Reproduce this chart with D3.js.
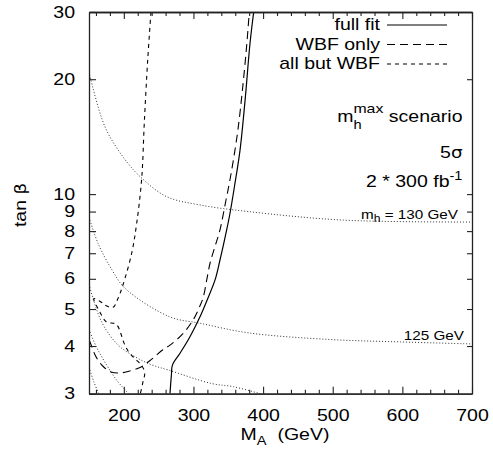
<!DOCTYPE html>
<html><head><meta charset="utf-8">
<script src="https://cdn.jsdelivr.net/npm/d3@7"></script>
<style>
body{margin:0;background:#fff}
svg{display:block}
text{font-family:"Liberation Sans",Arial,Helvetica,sans-serif;fill:#000}
</style>
</head><body>
<svg id="c" width="493" height="459"></svg>
<script>
// ---- data (M_A in GeV, tan beta) ----
const xTicksMajor = [200, 300, 400, 500, 600, 700];
const xTicksMinor = [160,180,220,240,260,280,320,340,360,380,420,440,460,480,520,540,560,580,620,640,660,680];
const yTicks = [3, 4, 5, 6, 7, 8, 9, 10, 20, 30];
const yTicksRight = [4, 5, 6, 7, 8, 9, 10, 20];
const legendLabels = ["full fit", "WBF only", "all but WBF"];

const fullFit = [[266.3,3.0],[268.3,3.35],[269.9,3.57],[280.7,3.83],[295,4.23],[309.4,4.77],[321.3,5.37],[330.9,5.95],[338.1,6.72],[347.7,8.06],[352.5,8.91],[359,10.5],[366.8,13.0],[374,17.5],[381.2,24.8],[386.5,30]];
const wbfOnly = [[150,4.15],[151.4,4.10],[157.9,3.82],[164,3.65],[170.8,3.53],[181.6,3.42],[194.5,3.40],[206,3.43],[224,3.52],[240.5,3.70],[256,3.91],[266.3,4.02],[285.4,4.32],[299.8,4.69],[309.4,5.1],[314.1,5.37],[319,5.95],[323.8,6.59],[331,7.3],[338.1,8.06],[346,9.5],[352,10.8],[358,12.5],[364,14.8],[370,18.5],[376,24],[380.2,30]];
const allButWBF = [[239,30],[234.3,22.45],[229.5,15.5],[225.7,11.0],[218.5,8.39],[211.3,7.0],[199,5.8],[191.6,5.33],[184.5,5.05],[174.8,5.1],[167.7,5.21],[157,5.32],[165.4,4.92],[174.8,4.63],[189.2,4.56],[195.5,4.32],[200.3,4.07],[207,3.86],[215.6,3.71],[225,3.57],[230,3.41],[227.5,3.22],[223.7,3.0]];
const mh130 = [[150,20.9],[173,15.0],[202,12.3],[226,11.0],[262,9.84],[309,9.37],[379,9.0],[515,8.55],[700,8.45]];
const mh125 = [[150,8.7],[163,7.43],[183,6.33],[202,5.66],[266,4.77],[309,4.59],[379,4.33],[496,4.16],[597,4.1],[700,4.05]];
const mh120 = [[150,5.8],[168,4.63],[192,4.02],[216,3.75],[240,3.57],[264,3.46],[326,3.19],[357,3.13],[396,3.0]];
const mh115 = [[150,4.42],[160,4.0],[172,3.65],[190,3.25],[207,3.0]];
const mh110 = [[150,3.52],[157,3.22],[164,3.0]];

// ---- layout ----
const K = 1.22; // horizontal stretch of the reference lettering
const svg = d3.select("#c");
const x = d3.scaleLinear([150, 700], [89, 472]);
const y = d3.scaleLog([3, 30], [393.7, 12]);
const frameColor = "#222";

svg.append("clipPath").attr("id","clip").append("rect")
  .attr("x", 89).attr("y", 12).attr("width", 472-89).attr("height", 393.7-12);

const line = d3.line().x(d => x(d[0])).y(d => y(d[1])).curve(d3.curveCatmullRom.alpha(0.5));
const plot = svg.append("g").attr("clip-path","url(#clip)");

[mh130, mh125, mh120, mh115, mh110].forEach(c => {
  plot.append("path").attr("d", line(c)).attr("fill","none")
    .attr("stroke","#333").attr("stroke-width",1).attr("stroke-dasharray","1,2");
});
plot.append("path").attr("d", line(allButWBF)).attr("fill","none")
  .attr("stroke","#000").attr("stroke-width",1.1).attr("stroke-dasharray","4,4");
plot.append("path").attr("d", line(wbfOnly)).attr("fill","none")
  .attr("stroke","#000").attr("stroke-width",1.1).attr("stroke-dasharray","8,5");
plot.append("path").attr("d", d3.line().x(d => x(d[0])).y(d => y(d[1])).curve(d3.curveCatmullRom.alpha(0.5))(fullFit))
  .attr("fill","none").attr("stroke","#000").attr("stroke-width",1.2);

// ---- axes ----
function styleAxis(g) {
  g.attr("font-size", null).attr("font-family", null);
  g.selectAll("path.domain").attr("stroke", frameColor).attr("stroke-width", 1.3);
  g.selectAll(".tick line").attr("stroke", frameColor).attr("stroke-width", 1.1);
  g.selectAll("text").style("font-size","16px").each(function(){
    const t = d3.select(this);
    const xx = +t.attr("x") || 0;
    t.attr("x", xx / K).attr("transform", `scale(${K},1)`);
  });
}
svg.append("g").attr("transform","translate(0,393.7)")
  .call(d3.axisBottom(x).tickValues(xTicksMinor).tickSize(-4).tickSizeOuter(0).tickFormat(""))
  .call(styleAxis);
svg.append("g").attr("transform","translate(0,393.7)")
  .call(d3.axisBottom(x).tickValues(xTicksMajor).tickSize(-7).tickSizeOuter(0).tickPadding(16).tickFormat(d3.format("d")))
  .call(styleAxis);
svg.append("g").attr("transform","translate(0,12)")
  .call(d3.axisTop(x).tickValues(xTicksMinor).tickSize(-4).tickSizeOuter(0).tickFormat(""))
  .call(styleAxis);
svg.append("g").attr("transform","translate(0,12)")
  .call(d3.axisTop(x).tickValues(xTicksMajor).tickSize(-7).tickSizeOuter(0).tickFormat(""))
  .call(styleAxis);
svg.append("g").attr("transform","translate(89,0)")
  .call(d3.axisLeft(y).tickValues(yTicks).tickSize(-7).tickSizeOuter(0).tickPadding(14).tickFormat(d3.format("d")))
  .call(styleAxis);
svg.append("g").attr("transform","translate(472,0)")
  .call(d3.axisRight(y).tickValues(yTicksRight).tickSize(-5).tickSizeOuter(0).tickFormat(""))
  .call(styleAxis);

// ---- text helpers ----
function txt(px, py, anchor, size, rot) {
  return svg.append("text")
    .attr("transform", `translate(${px},${py})` + (rot ? ` rotate(${rot})` : "") + ` scale(${K},1)`)
    .attr("text-anchor", anchor).style("font-size", size + "px");
}

// axis titles
const xt = txt(285, 440, "middle", 16);
xt.append("tspan").text("M");
xt.append("tspan").attr("dy", 5).style("font-size","12px").text("A");
xt.append("tspan").attr("dy", -5).text("\u00a0\u00a0(GeV)");

const yt = txt(26, 205, "middle", 16, -90);
yt.append("tspan").text("tan\u00a0");
yt.append("tspan").style("font-family","'DejaVu Sans',sans-serif").style("font-size","15px").text("\u03b2");

// legend
const legendStyles = [
  {dash: null},
  {dash: "8,5"},
  {dash: "4,4"}
];
legendLabels.forEach((lab, i) => {
  const by = 30 + i * 19.5;
  txt(380, by, "end", 16).text(lab);
  svg.append("line").attr("x1", 387).attr("x2", 447).attr("y1", by - 5).attr("y2", by - 5)
    .attr("stroke","#000").attr("stroke-width",1.1)
    .attr("stroke-dasharray", legendStyles[i].dash);
});

// annotations
const sc = txt(462.5, 122, "end", 16);
sc.append("tspan").text("m");
sc.append("tspan").attr("dy", 7).style("font-size","12px").text("h");
sc.append("tspan").attr("dy", -16).attr("dx", -6.7).style("font-size","13px").text("max");
sc.append("tspan").attr("dy", 9).text("\u00a0scenario");

const sg = txt(462.5, 158, "end", 16);
sg.append("tspan").text("5");
sg.append("tspan").style("font-family","'DejaVu Sans',sans-serif").style("font-size","15px").text("\u03c3");

const lum = txt(462.5, 187, "end", 16);
lum.append("tspan").text("2 * 300 fb");
lum.append("tspan").attr("dy", -7).style("font-size","12px").text("-1");

const l130 = txt(458, 219, "end", 12.5);
l130.append("tspan").text("m");
l130.append("tspan").attr("dy", 3).style("font-size","10px").text("h");
l130.append("tspan").attr("dy", -3).text("\u00a0= 130 GeV");

txt(464, 340, "end", 12.5).text("125 GeV");
</script>
</body></html>
